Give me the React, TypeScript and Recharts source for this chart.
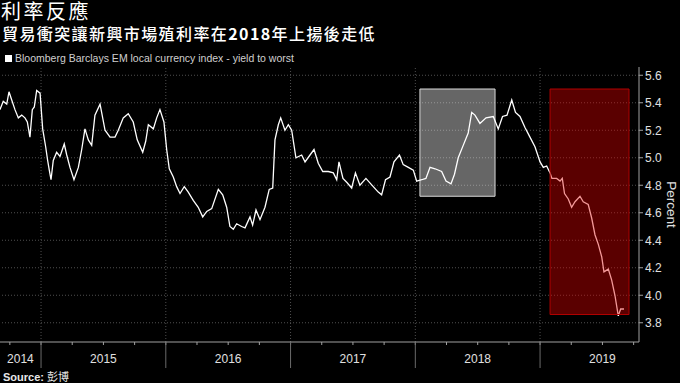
import { LineChart, Line, XAxis, YAxis, ReferenceArea, ReferenceLine } from "recharts";

// Bloomberg Barclays EM local currency index - yield to worst (decimal year, percent)
const times = [
  2014.671, 2014.697, 2014.725, 2014.743, 2014.765, 2014.791, 2014.818, 2014.845, 2014.871, 2014.89,
  2014.911, 2014.93, 2014.946, 2014.965, 2014.992, 2015.013, 2015.037, 2015.053, 2015.066, 2015.08,
  2015.098, 2015.125, 2015.152, 2015.186, 2015.206, 2015.232, 2015.264, 2015.299, 2015.326, 2015.352,
  2015.379, 2015.406, 2015.432, 2015.473, 2015.513, 2015.553, 2015.593, 2015.619, 2015.659, 2015.699,
  2015.739, 2015.771, 2015.815, 2015.839, 2015.86, 2015.9, 2015.927, 2015.953, 2015.985, 2016.007,
  2016.028, 2016.06, 2016.087, 2016.114, 2016.148, 2016.18, 2016.22, 2016.26, 2016.296, 2016.328,
  2016.368, 2016.421, 2016.456, 2016.488, 2016.514, 2016.541, 2016.568, 2016.608, 2016.635, 2016.675,
  2016.696, 2016.723, 2016.755, 2016.795, 2016.829, 2016.857, 2016.875, 2016.902, 2016.921, 2016.955,
  2016.982, 2017.009, 2017.043, 2017.089, 2017.116, 2017.156, 2017.188, 2017.222, 2017.258, 2017.302,
  2017.343, 2017.37, 2017.388, 2017.42, 2017.452, 2017.49, 2017.52, 2017.556, 2017.604, 2017.663,
  2017.703, 2017.73, 2017.761, 2017.797, 2017.829, 2017.873, 2017.903, 2017.944, 2017.984, 2018.011,
  2018.051, 2018.085, 2018.118, 2018.158, 2018.211, 2018.246, 2018.286, 2018.314, 2018.344, 2018.384,
  2018.424, 2018.452, 2018.478, 2018.518, 2018.567, 2018.625, 2018.665, 2018.699, 2018.735, 2018.773,
  2018.803, 2018.839, 2018.879, 2018.919, 2018.959, 2019.0, 2019.026, 2019.053, 2019.08, 2019.095,
  2019.133, 2019.16, 2019.178, 2019.196, 2019.226, 2019.253, 2019.28, 2019.32, 2019.346, 2019.386,
  2019.414, 2019.44, 2019.467, 2019.494, 2019.512, 2019.547, 2019.574, 2019.6, 2019.627, 2019.646,
  2019.673,
];

const yields = [
  5.35, 5.41, 5.39, 5.48, 5.42, 5.35, 5.29, 5.31, 5.29, 5.26,
  5.15, 5.35, 5.37, 5.49, 5.47, 5.21, 5.08, 4.98, 4.91, 4.84,
  4.98, 5.04, 5.01, 5.1, 5.02, 4.93, 4.84, 4.93, 5.06, 5.21,
  5.13, 5.09, 5.31, 5.39, 5.2, 5.15, 5.15, 5.2, 5.29, 5.32,
  5.26, 5.13, 5.04, 5.12, 5.24, 5.21, 5.29, 5.35, 5.26, 5.06,
  4.92, 4.86, 4.79, 4.74, 4.79, 4.75, 4.69, 4.64, 4.57, 4.61,
  4.63, 4.77, 4.73, 4.64, 4.5, 4.48, 4.52, 4.5, 4.49, 4.57,
  4.51, 4.62, 4.55, 4.64, 4.77, 4.78, 5.13, 5.24, 5.29, 5.2,
  5.24, 5.2, 5.0, 5.02, 4.97, 5.02, 5.06, 4.96, 4.9, 4.9,
  4.89, 4.84, 4.97, 4.85, 4.82, 4.78, 4.89, 4.8, 4.85, 4.79,
  4.75, 4.73, 4.84, 4.86, 4.97, 5.02, 4.95, 4.93, 4.91, 4.83,
  4.84, 4.85, 4.93, 4.92, 4.9, 4.83, 4.81, 4.88, 5.0, 5.09,
  5.18, 5.33, 5.31, 5.25, 5.29, 5.3, 5.21, 5.3, 5.31, 5.42,
  5.33, 5.3, 5.22, 5.15, 5.08, 4.97, 4.93, 4.94, 4.89, 4.85,
  4.85, 4.83, 4.85, 4.74, 4.7, 4.64, 4.68, 4.72, 4.68, 4.66,
  4.56, 4.44, 4.37, 4.28, 4.17, 4.19, 4.11, 4.0, 3.85, 3.9,
  3.9,
];

const yTicks = [3.8, 4.0, 4.2, 4.4, 4.6, 4.8, 5.0, 5.2, 5.4, 5.6];
const yearStarts = [2015, 2016, 2017, 2018, 2019];
const yearLabels = ["2014", "2015", "2016", "2017", "2018", "2019"];
const yearLabelPos = [2014.835, 2015.5, 2016.5, 2017.5, 2018.5, 2019.5];
const quarterTicks = [
  2014.75, 2015, 2015.25, 2015.5, 2015.75, 2016, 2016.25, 2016.5, 2016.75,
  2017, 2017.25, 2017.5, 2017.75, 2018, 2018.25, 2018.5, 2018.75,
  2019, 2019.25, 2019.5, 2019.75,
];

// highlighted periods
const rallyBox = { x1: 2018.037, x2: 2018.639, y1: 4.72, y2: 5.5 };
const tradeWarBox = { x1: 2019.08, x2: 2019.713, y1: 3.86, y2: 5.5 };

const X_DOMAIN = [2014.671, 2019.793];
const Y_DOMAIN = [3.66, 5.66];

const COLORS = {
  bg: "#000000",
  line: "#ffffff",
  grid: "#4f4f4f",
  axis: "#a0a0a0",
  text: "#e0e0e0",
};

const LATIN = "'Liberation Sans', Arial, sans-serif";
const CJK = "'Noto Sans CJK TC', 'Noto Sans CJK SC', sans-serif";

const chartData = times.map((t, i) => ({ t, v: yields[i] }));
const xTicks = Array.from(new Set([...quarterTicks, ...yearLabelPos])).sort((a, b) => a - b);

function YearTick(props: any) {
  const { x, y, payload } = props;
  const v = payload.value;
  const li = yearLabelPos.indexOf(v);
  return (
    <g>
      {quarterTicks.includes(v) && (
        <line x1={x} x2={x} y1={y} y2={y + 3} stroke={COLORS.axis} />
      )}
      {yearStarts.includes(v) && (
        <line x1={x} x2={x} y1={y} y2={y + 26} stroke="#6a6a6a" />
      )}
      {li >= 0 && (
        <text
          x={x}
          y={y + 21}
          textAnchor="middle"
          fill={COLORS.text}
          fontSize={12}
          fontFamily={LATIN}
        >
          {yearLabels[li]}
        </text>
      )}
    </g>
  );
}

export default function App() {
  return (
    <div
      style={{
        position: "absolute",
        left: 0,
        top: 0,
        width: 680,
        height: 383,
        background: COLORS.bg,
        overflow: "hidden",
      }}
    >
      <div
        style={{
          position: "absolute",
          left: 1,
          top: 1,
          fontFamily: CJK,
          fontSize: 20,
          letterSpacing: 2.5,
          lineHeight: "20px",
          color: "#fff",
          whiteSpace: "nowrap",
        }}
      >
        利率反應
      </div>
      <div
        style={{
          position: "absolute",
          left: 2,
          top: 25,
          fontFamily: CJK,
          fontSize: 16,
          fontWeight: 500,
          letterSpacing: 1.4,
          lineHeight: "16px",
          color: "#fff",
          whiteSpace: "nowrap",
        }}
      >
        貿易衝突讓新興市場殖利率在<b>2018</b>年上揚後走低
      </div>
      <div
        style={{
          position: "absolute",
          left: 5,
          top: 51,
          display: "flex",
          alignItems: "center",
          fontFamily: LATIN,
          fontSize: 10.5,
          lineHeight: "14px",
          color: "#d0d0d0",
          whiteSpace: "nowrap",
        }}
      >
        <span style={{ width: 7, height: 7, background: "#fff", marginRight: 3 }} />
        Bloomberg Barclays EM local currency index - yield to worst
      </div>

      <div style={{ position: "absolute", left: 0, top: 0 }}>
        <LineChart
          width={680}
          height={383}
          data={chartData}
          margin={{ top: 67, right: 0, bottom: 0, left: 0 }}
        >
          {/* dotted grid */}
          {yTicks.map((y) => (
            <ReferenceLine
              key={`h${y}`}
              y={y}
              stroke={COLORS.grid}
              strokeDasharray="1 2"
              zIndex={-50}
            />
          ))}
          {yearStarts.map((x) => (
            <ReferenceLine
              key={`v${x}`}
              x={x}
              stroke={COLORS.grid}
              strokeDasharray="1 2"
              zIndex={-50}
            />
          ))}

          <ReferenceArea
            {...rallyBox}
            fill="#ffffff"
            fillOpacity={0.4}
            stroke="#d8d8d8"
            strokeWidth={1}
            ifOverflow="visible"
            zIndex={-40}
          />

          <XAxis
            dataKey="t"
            type="number"
            domain={X_DOMAIN}
            ticks={xTicks}
            interval={0}
            height={41}
            axisLine={{ stroke: COLORS.axis }}
            tickLine={false}
            tickSize={0}
            tickMargin={0}
            tick={<YearTick />}
          />
          <YAxis
            orientation="right"
            type="number"
            domain={Y_DOMAIN}
            ticks={yTicks}
            interval={0}
            width={41}
            axisLine={{ stroke: COLORS.axis }}
            tickLine={{ stroke: COLORS.axis }}
            tickSize={4}
            tickMargin={2}
            tick={{ fill: COLORS.text, fontSize: 12, fontFamily: LATIN }}
            tickFormatter={(v: number) => v.toFixed(1)}
            label={{
              value: "Percent",
              angle: 90,
              position: "center",
              dx: 12,
              fill: COLORS.text,
              fontSize: 13.5,
              fontFamily: LATIN,
            }}
          />

          <Line
            type="linear"
            dataKey="v"
            stroke={COLORS.line}
            strokeWidth={1.3}
            dot={false}
            isAnimationActive={false}
          />

          <ReferenceArea
            {...tradeWarBox}
            fill="#e00000"
            fillOpacity={0.4}
            stroke="#b00000"
            strokeWidth={1}
            ifOverflow="visible"
            zIndex={1000}
          />
        </LineChart>
      </div>

      <div
        style={{
          position: "absolute",
          left: 3,
          top: 371,
          fontFamily: LATIN,
          fontSize: 11,
          lineHeight: "11px",
          color: "#e8e8e8",
          whiteSpace: "nowrap",
        }}
      >
        <b>Source:</b> <span style={{ fontFamily: CJK }}>彭博</span>
      </div>
    </div>
  );
}
